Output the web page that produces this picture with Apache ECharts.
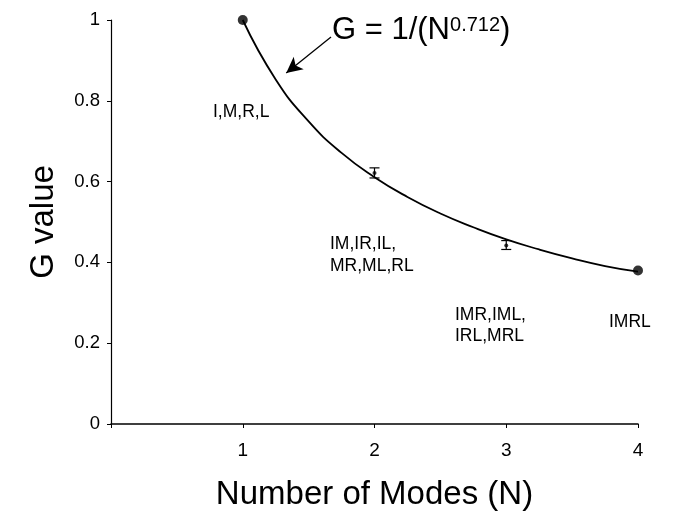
<!DOCTYPE html>
<html>
<head>
<meta charset="utf-8">
<script src="https://cdn.jsdelivr.net/npm/echarts@6/dist/echarts.min.js"></script>
<style>
  html, body { margin: 0; padding: 0; background: #fff; }
  #main { width: 676px; height: 519px; }
</style>
</head>
<body>
<div id="main"></div>
<script>
// fitted curve G = 1/(N^0.712)
const curveN = [1.0, 1.25, 1.5, 1.75, 2.0, 2.25, 2.5, 2.75, 3.0, 3.25, 3.5, 3.75, 4.0];
const curveG = [1.0, 0.853, 0.749, 0.671, 0.611, 0.562, 0.521, 0.487, 0.457, 0.432, 0.410, 0.391, 0.377];

// measured points (end points have no error bar)
const endN = [1, 4];
const endG = [1.0, 0.38];
const meanN = [2, 3];
const meanG = [0.621, 0.442];
const errLow = [0.609, 0.432];
const errHigh = [0.634, 0.454];

const yTicks = [0, 0.2, 0.4, 0.6, 0.8, 1];
const xTicks = [1, 2, 3, 4];

const FONT = '"Liberation Sans", Arial, sans-serif';

let myChart = echarts.init(document.getElementById('main'));

let option = {
  animation: false,
  backgroundColor: '#fff',
  grid: { left: 111, right: 38, top: 20, bottom: 95 },
  xAxis: {
    type: 'value',
    min: 0, max: 4, interval: 1,
    name: 'Number of Modes (N)',
    nameLocation: 'middle',
    nameGap: 54,
    nameTextStyle: { fontFamily: FONT, fontSize: 33, color: '#000' },
    axisLine: { show: true, onZero: false, lineStyle: { color: '#000', width: 1.5 } },
    axisTick: { show: true, length: 4, lineStyle: { color: '#000' } },
    axisLabel: {
      margin: 17, fontFamily: FONT, fontSize: 19, color: '#000',
      formatter: v => xTicks.includes(v) ? String(v) : ''
    },
    splitLine: { show: false }
  },
  yAxis: {
    type: 'value',
    min: 0, max: 1, interval: 0.2,
    name: 'G value',
    nameLocation: 'middle',
    nameGap: 51,
    nameTextStyle: { fontFamily: FONT, fontSize: 33, color: '#000' },
    axisLine: { show: true, lineStyle: { color: '#000', width: 1.2 } },
    axisTick: { show: true, length: 4, lineStyle: { color: '#000' } },
    axisLabel: {
      margin: 11, fontFamily: FONT, fontSize: 18.5, color: '#000',
      formatter: v => yTicks.includes(+v.toFixed(1)) ? String(+v.toFixed(1)) : ''
    },
    splitLine: { show: false }
  },
  series: [
    {
      // fitted curve + the arrow pointing at it
      type: 'line',
      data: curveN.map((n, i) => [n, curveG[i]]),
      smooth: true,
      showSymbol: false,
      lineStyle: { color: '#000', width: 1.8 },
      z: 2,
      markLine: {
        silent: true,
        symbol: ['none', 'arrow'],
        symbolSize: [12, 16],
        label: { show: false },
        lineStyle: { color: '#000', width: 1.3, type: 'solid' },
        data: [[{ coord: [1.67, 0.958] }, { coord: [1.33, 0.869] }]]
      }
    },
    {
      type: 'scatter',
      data: endN.map((n, i) => [n, endG[i]]),
      symbolSize: 10,
      itemStyle: { color: '#000' },
      z: 4
    },
    {
      type: 'scatter',
      data: meanN.map((n, i) => [n, meanG[i]]),
      symbolSize: 4,
      itemStyle: { color: '#000' },
      z: 4
    },
    {
      // error bars
      type: 'custom',
      data: meanN.map((n, i) => [n, errLow[i], errHigh[i]]),
      renderItem: function (params, api) {
        const lo = api.coord([api.value(0), api.value(1)]);
        const hi = api.coord([api.value(0), api.value(2)]);
        const w = 5;
        const st = { stroke: '#000', lineWidth: 1.2 };
        return {
          type: 'group',
          children: [
            { type: 'line', shape: { x1: lo[0], y1: lo[1], x2: hi[0], y2: hi[1] }, style: st },
            { type: 'line', shape: { x1: lo[0] - w, y1: lo[1], x2: lo[0] + w, y2: lo[1] }, style: st },
            { type: 'line', shape: { x1: hi[0] - w, y1: hi[1], x2: hi[0] + w, y2: hi[1] }, style: st }
          ]
        };
      },
      z: 3
    }
  ],
  graphic: [
    {
      type: 'text', left: 332, top: 15,
      style: {
        text: '{a|G = 1/(N}{s|0.712}{a|)}',
        rich: {
          a: { fontFamily: FONT, fontSize: 31, fill: '#000' },
          s: { fontFamily: FONT, fontSize: 20, fill: '#000', verticalAlign: 'top', padding: [0, 0, 10, 0] }
        }
      }
    },
    { type: 'text', left: 213, top: 103, style: { text: 'I,M,R,L', font: '17.5px ' + FONT, fill: '#000' } },
    { type: 'text', left: 330, top: 233, style: { text: 'IM,IR,IL,\nMR,ML,RL', font: '17.5px ' + FONT, lineHeight: 22, fill: '#000' } },
    { type: 'text', left: 455, top: 305, style: { text: 'IMR,IML,\nIRL,MRL', font: '17.5px ' + FONT, lineHeight: 21, fill: '#000' } },
    { type: 'text', left: 609, top: 313, style: { text: 'IMRL', font: '17.5px ' + FONT, fill: '#000' } }
  ]
};

myChart.setOption(option);
</script>
</body>
</html>
